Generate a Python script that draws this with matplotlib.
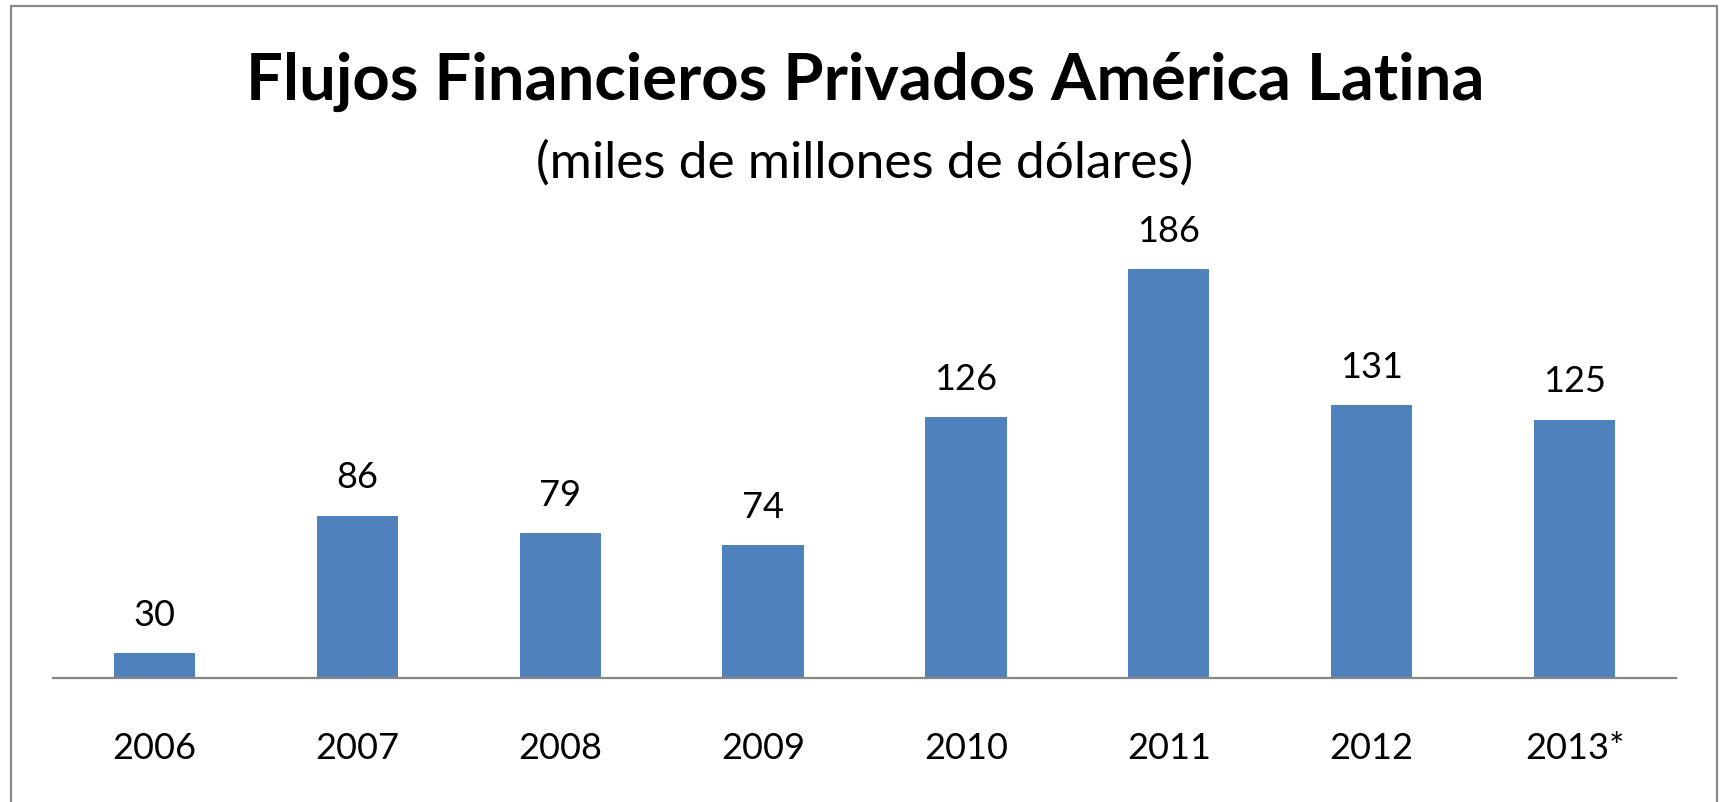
import matplotlib
matplotlib.use("Agg")
import matplotlib.pyplot as plt
from matplotlib.patches import Rectangle

# data
years = ["2006", "2007", "2008", "2009", "2010", "2011", "2012", "2013*"]
flows = [30, 86, 79, 74, 126, 186, 131, 125]

title = "Flujos Financieros Privados América Latina"
subtitle = "(miles de millones de dólares)"

plt.rcParams['font.family'] = ['Lato', 'DejaVu Sans']

W, H = 1725, 803
fig = plt.figure(figsize=(W / 100, H / 100), dpi=100)
fig.patch.set_facecolor("white")

# axes placed in pixel terms of the reference
left, right = 53 / W, 1676 / W
bottom, top = 1 - 679 / H, 1 - 236 / H
ax = fig.add_axes([left, bottom, right - left, top - bottom])

x = range(len(years))
bars = ax.bar(x, flows, width=0.40, color="#4F81BD", zorder=2)
ax.set_ylim(20, 200)
ax.set_xlim(-0.5, len(years) - 0.5)

for i, v in enumerate(flows):
    ax.annotate(str(v), (i, v), textcoords="offset points", xytext=(0, 16),
                ha="center", va="bottom", fontsize=26, color="black")

ax.set_xticks(list(x))
ax.set_xticklabels(years, fontsize=26)
ax.tick_params(axis="x", length=0, pad=38)
ax.set_yticks([])

for s in ["left", "right", "top"]:
    ax.spines[s].set_visible(False)
ax.spines["bottom"].set_color("#868686")
ax.spines["bottom"].set_linewidth(1.6)

fig.text(865 / W, 1 - 82 / H, title, ha="center", va="center",
         fontsize=47, fontweight="bold", color="black")
fig.text(865 / W, 1 - 163 / H, subtitle, ha="center", va="center",
         fontsize=37, color="black")

# outer chart border (bottom edge falls off the image)
fig.patches.append(Rectangle((11 / W, -0.02), (1717 - 11) / W, 1 - 7 / H + 0.02,
                             transform=fig.transFigure, fill=False,
                             edgecolor="#898989", linewidth=1.6))

fig.savefig("out.png", dpi=100)
